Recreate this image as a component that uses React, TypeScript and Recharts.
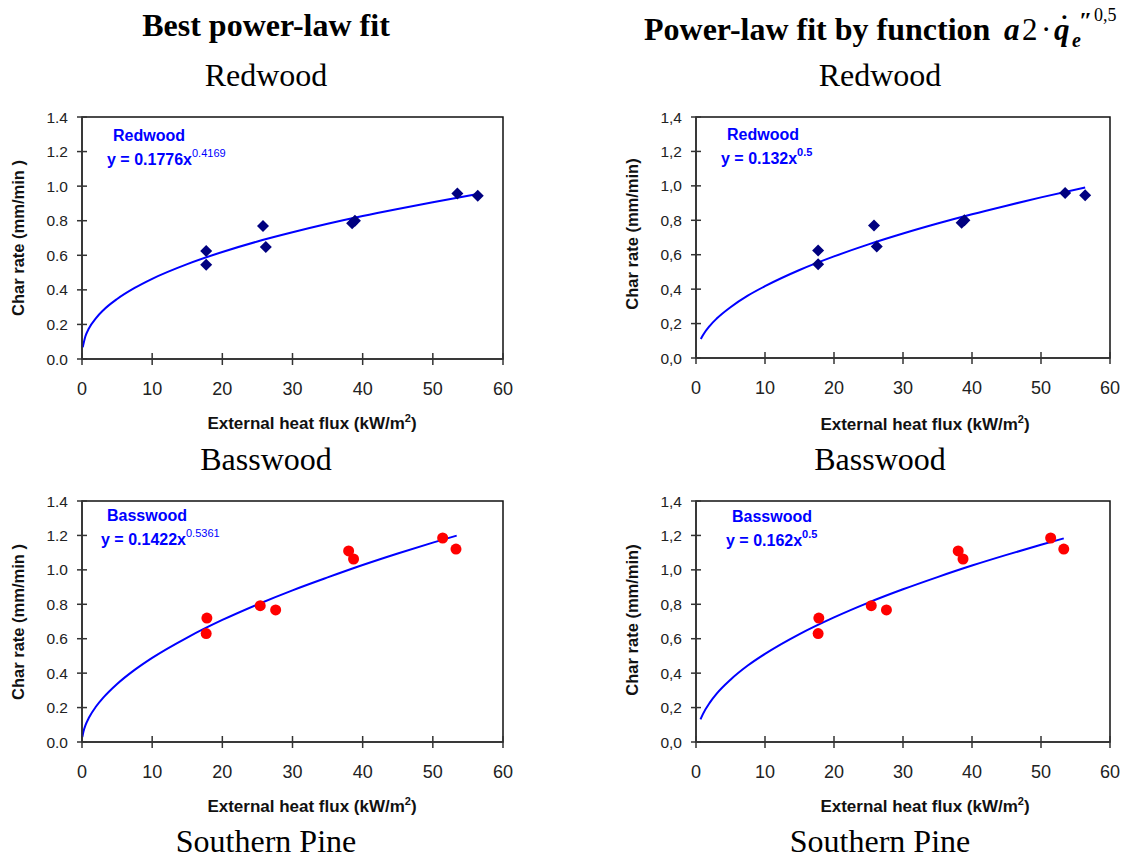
import React from 'react';
import { ComposedChart, Line, Scatter, XAxis, YAxis, ReferenceArea } from 'recharts';

// measured points (kW/m2, mm/min)
const redwoodX = [17.7, 17.7, 25.8, 26.2, 38.5, 38.9, 53.5, 56.4];
const redwoodY = [0.625, 0.545, 0.77, 0.648, 0.785, 0.8, 0.958, 0.945];
const basswoodX = [17.8, 17.7, 25.4, 27.6, 38.0, 38.7, 51.4, 53.3];
const basswoodY = [0.72, 0.63, 0.792, 0.767, 1.11, 1.063, 1.185, 1.121];

// trend lines
const fitRedBestX = [0.1, 0.5, 1, 2, 3, 5, 7.5, 10, 15, 20, 25, 30, 35, 40, 45, 50, 56.4];
const fitRedBestY = [0.068, 0.133, 0.178, 0.237, 0.281, 0.347, 0.411, 0.464, 0.549, 0.619, 0.68, 0.733, 0.782, 0.827, 0.868, 0.907, 0.954];
const fitRedHalfX = [0.7, 1, 2, 3, 5, 7.5, 10, 15, 20, 25, 30, 35, 40, 45, 50, 56.4];
const fitRedHalfY = [0.11, 0.132, 0.187, 0.229, 0.295, 0.362, 0.417, 0.511, 0.59, 0.66, 0.723, 0.781, 0.835, 0.885, 0.933, 0.991];
const fitBassBestX = [0.05, 0.2, 0.5, 1, 2, 3, 5, 7.5, 10, 15, 20, 25, 30, 35, 40, 45, 50, 53.4];
const fitBassBestY = [0.029, 0.06, 0.098, 0.142, 0.206, 0.256, 0.337, 0.419, 0.489, 0.607, 0.709, 0.799, 0.881, 0.956, 1.028, 1.095, 1.158, 1.199];
const fitBassHalfX = [0.65, 1, 2, 3, 5, 7.5, 10, 15, 20, 25, 30, 35, 40, 45, 50, 53.3];
const fitBassHalfY = [0.131, 0.162, 0.229, 0.281, 0.362, 0.444, 0.512, 0.627, 0.724, 0.81, 0.887, 0.958, 1.025, 1.087, 1.146, 1.183];

const xTicks = [0, 10, 20, 30, 40, 50, 60];
const yTicks = [0, 0.2, 0.4, 0.6, 0.8, 1.0, 1.2, 1.4];

const zip = (xs: number[], ys: number[]) => xs.map((x, i) => ({ x, y: ys[i] }));

const SANS = '"Liberation Sans", Arial, sans-serif';
const SERIF = '"Liberation Serif", "Times New Roman", serif';
const AXIS = '#333';

const Diamond = (p: any) => {
  const { cx, cy } = p;
  const r = 6;
  return <polygon points={`${cx},${cy - r} ${cx + r},${cy} ${cx},${cy + r} ${cx - r},${cy}`} fill="#000080" />;
};

const Dot = (p: any) => <circle cx={p.cx} cy={p.cy} r={5.5} fill="#ff0000" />;

interface PanelProps {
  left: number;
  top: number;
  w: number;
  h: number;
  points: { x: number; y: number }[];
  curve: { x: number; y: number }[];
  marker: (p: any) => React.ReactElement;
  comma?: boolean;
}

function Panel({ left, top, w, h, points, curve, marker, comma }: PanelProps) {
  const ml = 60, mt = 20, mr = 20, mb = 50;
  const fmt = (v: number) => {
    const s = v.toFixed(1);
    return comma ? s.replace('.', ',') : s;
  };
  return (
    <div style={{ position: 'absolute', left: left - ml, top: top - mt }}>
      <ComposedChart width={w + ml + mr} height={h + mt + mb} margin={{ top: mt, right: mr, bottom: 0, left: 0 }}>
        <XAxis
          type="number"
          dataKey="x"
          domain={[0, 60]}
          ticks={xTicks}
          interval={0}
          height={mb}
          tickSize={0}
          tickMargin={0}
          tickLine={false}
          axisLine={{ stroke: AXIS, strokeWidth: 1.5 }}
          tick={(p: any) => (
            <g>
              <line x1={p.x} x2={p.x} y1={p.y - 6} y2={p.y + 6} stroke={AXIS} strokeWidth={1.5} />
              <text x={p.x} y={p.y + 36} textAnchor="middle" fontSize={18} fill="#222" fontFamily={SANS}>
                {p.payload.value}
              </text>
            </g>
          )}
        />
        <YAxis
          type="number"
          dataKey="y"
          domain={[0, 1.4]}
          ticks={yTicks}
          interval={0}
          width={ml}
          tickSize={0}
          tickMargin={0}
          tickLine={false}
          axisLine={{ stroke: AXIS, strokeWidth: 1.5 }}
          tick={(p: any) => (
            <g>
              <line x1={p.x - 5} x2={p.x + 5} y1={p.y} y2={p.y} stroke={AXIS} strokeWidth={1.5} />
              <text x={p.x - 14} y={p.y} dy="0.36em" textAnchor="end" fontSize={15.5} fill="#222" fontFamily={SANS}>
                {fmt(p.payload.value)}
              </text>
            </g>
          )}
        />
        <ReferenceArea x1={0} x2={60} y1={0} y2={1.4} fill="none" stroke="#111" strokeWidth={1.5} />
        <Line data={curve} dataKey="y" type="monotone" stroke="#0000ff" strokeWidth={2} dot={false} isAnimationActive={false} />
        <Scatter data={points} dataKey="y" shape={marker} isAnimationActive={false} />
      </ComposedChart>
    </div>
  );
}

const XLabel = ({ cx, y }: { cx: number; y: number }) => (
  <text x={cx} y={y} textAnchor="middle" fontFamily={SANS} fontWeight="bold" fontSize={17} fill="#111">
    External heat flux (kW/m<tspan fontSize={11} dy={-7}>2</tspan>
    <tspan dy={7}>)</tspan>
  </text>
);

const YLabel = ({ cx, cy, text }: { cx: number; cy: number; text: string }) => (
  <text
    x={cx}
    y={cy}
    transform={`rotate(-90 ${cx} ${cy})`}
    textAnchor="middle"
    dy="0.35em"
    fontFamily={SANS}
    fontWeight="bold"
    fontSize={16.5}
    fill="#111"
  >
    {text}
  </text>
);

const Note = ({ x, y, name, coef, exp, boldExp }: { x: number; y: number; name: string; coef: string; exp: string; boldExp?: boolean }) => (
  <g fontFamily={SANS} fill="#0000ff">
    <text x={x + 6} y={y} fontSize={16} fontWeight="bold">{name}</text>
    <text x={x} y={y + 24} fontSize={16} fontWeight="bold">
      y = {coef}x<tspan fontSize={11} fontWeight={boldExp ? 'bold' : 'normal'} dy={-8}>{exp}</tspan>
    </text>
  </g>
);

export default function App() {
  const redwood = zip(redwoodX, redwoodY);
  const basswood = zip(basswoodX, basswoodY);
  return (
    <div style={{ position: 'absolute', left: 0, top: 0, width: 1132, height: 857, background: '#fff', overflow: 'hidden' }}>
      <Panel left={82} top={117} w={421} h={242} points={redwood} curve={zip(fitRedBestX, fitRedBestY)} marker={Diamond} />
      <Panel left={696} top={117} w={414} h={241} points={redwood} curve={zip(fitRedHalfX, fitRedHalfY)} marker={Diamond} comma />
      <Panel left={82} top={501} w={421} h={241} points={basswood} curve={zip(fitBassBestX, fitBassBestY)} marker={Dot} />
      <Panel left={696} top={501} w={414} h={241} points={basswood} curve={zip(fitBassHalfX, fitBassHalfY)} marker={Dot} comma />

      <svg width={1132} height={857} style={{ position: 'absolute', left: 0, top: 0, pointerEvents: 'none' }}>
        <g fontFamily={SERIF} fill="#000">
          <text x={266} y={36} textAnchor="middle" fontSize={32} fontWeight="bold">Best power-law fit</text>
          <text x={644} y={40} fontSize={32} fontWeight="bold">Power-law fit by function</text>
          <text x={1004} y={40} fontSize={31} fontWeight="bold" fontStyle="italic">a</text>
          <text x={1022} y={40} fontSize={31}>2</text>
          <text x={1041} y={40} fontSize={31}>·</text>
          <text x={1054} y={40} fontSize={31} fontWeight="bold" fontStyle="italic">q</text>
          <text x={1060} y={33} fontSize={26} fontWeight="bold">˙</text>
          <text x={1079} y={28} fontSize={24} fontWeight="bold" fontStyle="italic">″</text>
          <text x={1072} y={47} fontSize={20} fontWeight="bold" fontStyle="italic">e</text>
          <text x={1094} y={21} fontSize={18}>0,5</text>

          <text x={266} y={86} textAnchor="middle" fontSize={32}>Redwood</text>
          <text x={880} y={86} textAnchor="middle" fontSize={32}>Redwood</text>
          <text x={266} y={470} textAnchor="middle" fontSize={32}>Basswood</text>
          <text x={880} y={470} textAnchor="middle" fontSize={32}>Basswood</text>
          <text x={266} y={852} textAnchor="middle" fontSize={32}>Southern Pine</text>
          <text x={880} y={852} textAnchor="middle" fontSize={32}>Southern Pine</text>
        </g>

        <YLabel cx={18.5} cy={238} text="Char rate (mm/min )" />
        <YLabel cx={632} cy={234} text="Char rate (mm/min)" />
        <YLabel cx={18.5} cy={622} text="Char rate (mm/min )" />
        <YLabel cx={632} cy={620} text="Char rate (mm/min)" />

        <XLabel cx={312} y={429} />
        <XLabel cx={925} y={430} />
        <XLabel cx={312} y={812} />
        <XLabel cx={925} y={812} />

        <Note x={107} y={141} name="Redwood" coef="0.1776" exp="0.4169" />
        <Note x={721} y={140} name="Redwood" coef="0.132" exp="0.5" boldExp />
        <Note x={101} y={521} name="Basswood" coef="0.1422" exp="0.5361" />
        <Note x={726} y={522} name="Basswood" coef="0.162" exp="0.5" boldExp />
      </svg>
    </div>
  );
}
